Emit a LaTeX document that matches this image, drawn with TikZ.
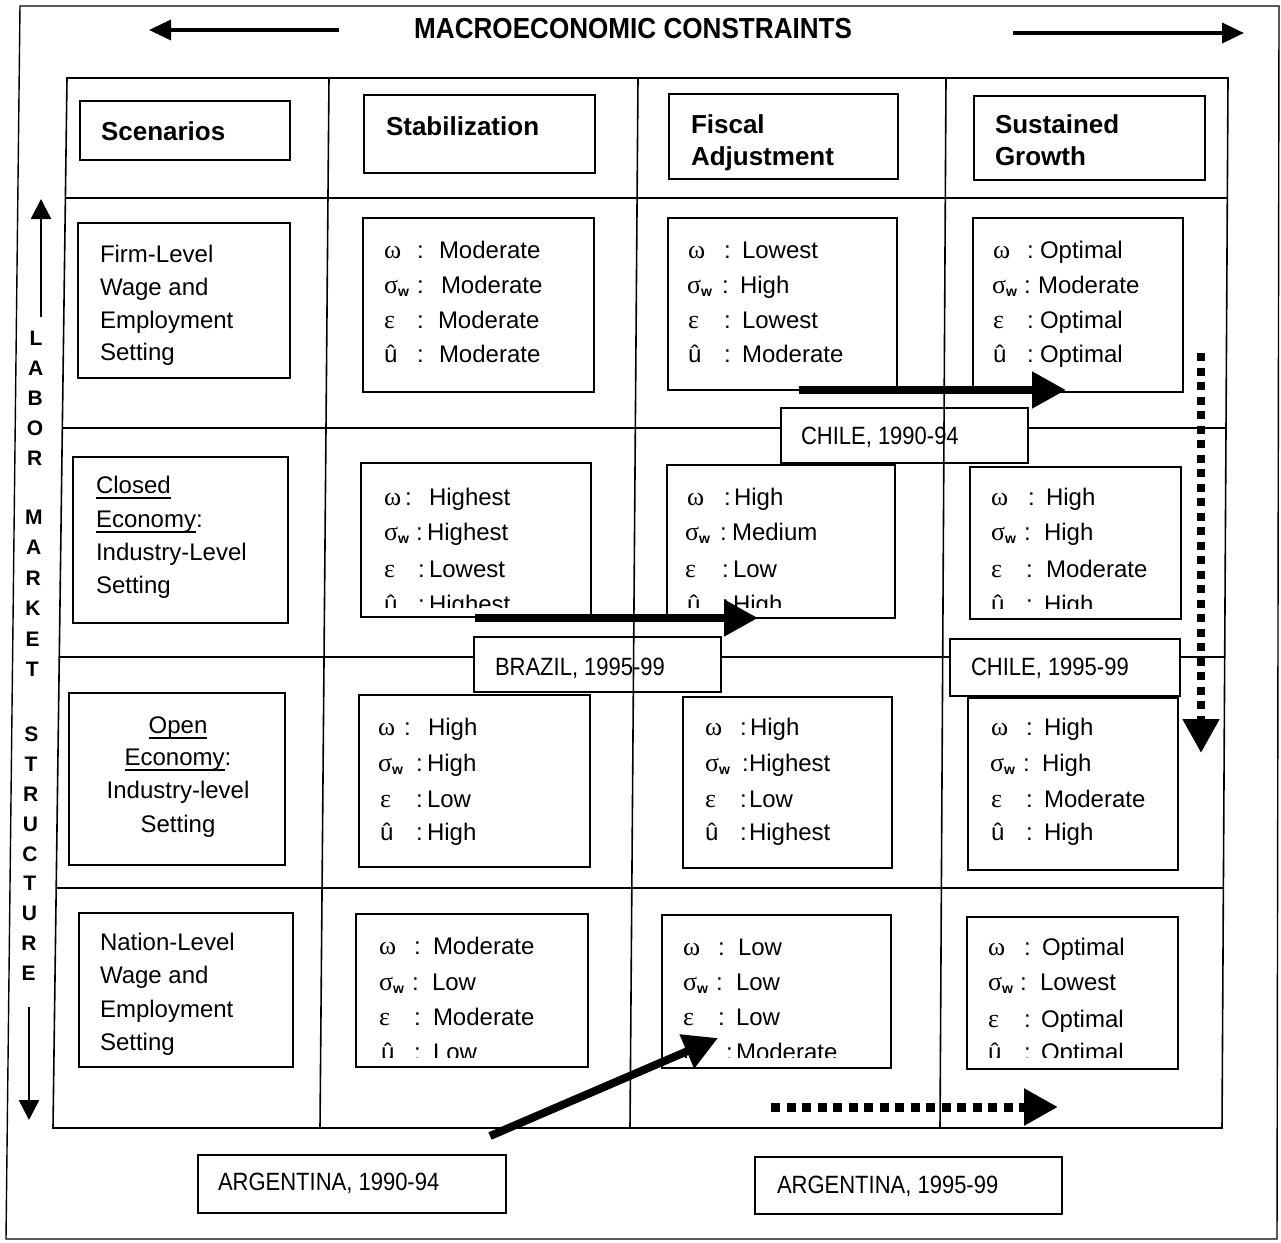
\documentclass[tikz,border=0pt]{standalone}
\usepackage{fontspec}
\setmainfont{Liberation Sans}
\newfontfamily\grk{Liberation Serif}
\newfontfamily\narrowfont[FakeStretch=0.88]{Liberation Sans}
\newfontfamily\titlefont[FakeStretch=0.9]{Liberation Sans}
\usetikzlibrary{arrows.meta,fit}

\newcommand\om{{\grk\fontsize{26}{28}\selectfont ω}}
\newcommand\sw{{\grk\fontsize{26}{28}\selectfont σ}\raisebox{-3.5pt}{\fontsize{14}{14}\selectfont\bfseries w}}
\newcommand\ep{{\grk\fontsize{26}{28}\selectfont ε}}
\newcommand\uh{û}
\newcommand\myul[1]{\setbox0\hbox{#1}\rlap{\rule[-6pt]{\wd0}{2pt}}\box0}
% one data line: name, symbol x, colon x, value x, baseline y, symbol, value
\newcommand\dl[7]{%
  \node[txt] (#1s) at (#2,#5) {#6};
  \node[txt] (#1c) at (#3,#5) {:};
  \node[txt] (#1v) at (#4,#5) {#7};}
\newcommand\mkbox[5]{\node[boxst, fit={(#2,#3) (#4,#5)}] (#1) {};}

\begin{document}
\begin{tikzpicture}[x=1pt,y=-1pt,
  gridln/.style={line width=1.6pt},
  boxst/.style={draw, line width=2pt, inner sep=0pt, outer sep=0pt, fill=white},
  txt/.style={inner sep=0pt, outer sep=0pt, anchor=base west, font=\fontsize{24}{28}\selectfont},
  rlab/.style={inner sep=0pt, outer sep=0pt, anchor=base west, font=\fontsize{24}{28}\selectfont},
  hdr/.style={inner sep=0pt, outer sep=0pt, anchor=base west, font=\fontsize{26}{30}\selectfont\bfseries},
  lbl/.style={inner sep=0pt, outer sep=0pt, anchor=base west, font=\narrowfont\fontsize{25}{28}\selectfont},
  vlet/.style={inner sep=0pt, outer sep=0pt, font=\fontsize{21}{21}\selectfont\bfseries},
  solidarr/.style={line width=8pt, -{Triangle[length=34pt,width=35pt]}},
  dotarr/.style={line width=8pt, dash pattern=on 8pt off 6.5pt, -{Triangle[length=34pt,width=35pt]}},
  thinarr/.style={line width=3.5pt, -{Triangle[length=22pt,width=20pt]}},
]
\fill[white] (0,0) rectangle (1281,1242);
\useasboundingbox (0,0) rectangle (1281,1242);

% outer frame
\draw[line width=1.4pt] (20,6) -- (1279,6) -- (1277,1239) -- (6,1239) -- cycle;

% title and its arrows
\node[inner sep=0pt, anchor=base west, font=\titlefont\fontsize{29}{32}\selectfont\bfseries] (title) at (414,38) {MACROECONOMIC CONSTRAINTS};
\coordinate (tla) at (339,30); \coordinate (tlb) at (149,30);
\coordinate (tra) at (1013,33); \coordinate (trb) at (1244,33);
\draw[thinarr] (tla) -- (tlb);
\draw[thinarr] (tra) -- (trb);

% left vertical label
\coordinate (vua) at (41,317); \coordinate (vub) at (41,199);
\coordinate (vda) at (29,1007); \coordinate (vdb) at (29,1120);
\draw[line width=2.5pt, -{Triangle[length=20pt,width=20pt]}] (vua) -- (vub);
\draw[line width=2.5pt, -{Triangle[length=20pt,width=20pt]}] (vda) -- (vdb);
\foreach \ch/\yy [count=\i] in {L/338,A/368,B/398,O/428,R/458,M/517,A/547,R/578,K/608,E/639,T/669,S/734,T/764,R/794,U/824,C/854,T/883,U/913,R/943,E/973}
  \node[vlet] (lm\i) at ({36-(\yy-338)*0.0115},\yy) {\ch};

% grid: outer and row lines
\draw[gridln] (67,78) -- (1228,78) -- (1222,1128) -- (53,1128) -- cycle;
\draw[gridln] (65.4,198) -- (1227.3,198);
\draw[gridln] (62.3,428) -- (1226,428);
\draw[gridln] (59.3,657) -- (1224.7,657);
\draw[gridln] (56.2,888) -- (1223.4,888);

% header boxes
\mkbox{hscen}{80}{101}{290}{160}
\node[hdr] (tscen) at (101,140) {Scenarios};
\mkbox{hstab}{364}{95}{595}{173}
\node[hdr] (tstab) at (386,135) {Stabilization};
\mkbox{hfisc}{669}{94}{898}{179}
\node[hdr] (tfisca) at (691,133) {Fiscal};
\node[hdr] (tfiscb) at (691,165) {Adjustment};
\mkbox{hsust}{974}{96}{1205}{180}
\node[hdr] (tsusta) at (995,133) {Sustained};
\node[hdr] (tsustb) at (995,165) {Growth};

% row label boxes
\mkbox{rl1}{78}{223}{290}{378}
\node[rlab] (rl1a) at (100,262) {Firm-Level};
\node[rlab] (rl1b) at (100,295) {Wage and};
\node[rlab] (rl1c) at (100,328) {Employment};
\node[rlab] (rl1d) at (100,360) {Setting};
\mkbox{rl2}{73}{457}{288}{623}
\node[rlab] (rl2a) at (96,493) {\myul{Closed}};
\node[rlab] (rl2b) at (96,527) {\myul{Economy}:};
\node[rlab] (rl2c) at (96,560) {Industry-Level};
\node[rlab] (rl2d) at (96,593) {Setting};
\mkbox{rl3}{69}{693}{285}{865}
\node[rlab, anchor=base] (rl3a) at (178,733) {\myul{Open}};
\node[rlab, anchor=base] (rl3b) at (178,765) {\myul{Economy}:};
\node[rlab, anchor=base] (rl3c) at (178,798) {Industry-level};
\node[rlab, anchor=base] (rl3d) at (178,832) {Setting};
\mkbox{rl4}{79}{913}{293}{1067}
\node[rlab] (rl4a) at (100,950) {Nation-Level};
\node[rlab] (rl4b) at (100,983) {Wage and};
\node[rlab] (rl4c) at (100,1017) {Employment};
\node[rlab] (rl4d) at (100,1050) {Setting};

% row 1 data boxes
\mkbox{b12}{363}{218}{594}{392}
\dl{r1c2a}{384}{417}{439}{258}{\om}{Moderate}
\dl{r1c2b}{384}{417}{441}{293}{\sw}{Moderate}
\dl{r1c2c}{384}{417}{438}{328}{\ep}{Moderate}
\dl{r1c2d}{384}{417}{439}{362}{\uh}{Moderate}
\mkbox{b13}{668}{218}{897}{390}
\dl{r1c3a}{688}{724}{742}{258}{\om}{Lowest}
\dl{r1c3b}{687}{722}{740}{293}{\sw}{High}
\dl{r1c3c}{688}{724}{742}{328}{\ep}{Lowest}
\dl{r1c3d}{688}{724}{742}{362}{\uh}{Moderate}
\mkbox{b14}{973}{218}{1183}{392}
\dl{r1c4a}{993}{1027}{1040}{258}{\om}{Optimal}
\dl{r1c4b}{992}{1024}{1038}{293}{\sw}{Moderate}
\dl{r1c4c}{993}{1027}{1040}{328}{\ep}{Optimal}
\dl{r1c4d}{993}{1027}{1040}{362}{\uh}{Optimal}

% row 2 data boxes
\mkbox{b22}{361}{463}{591}{617}
\dl{r2c2a}{384}{405}{429}{505}{\om}{Highest}
\dl{r2c2b}{384}{416}{427}{540}{\sw}{Highest}
\dl{r2c2c}{384}{418}{429}{577}{\ep}{Lowest}
\begin{scope}\clip (361,463) rectangle (591,607);
\dl{r2c2d}{384}{418}{429}{612}{\uh}{Highest}
\end{scope}
\mkbox{b23}{667}{465}{895}{618}
\dl{r2c3a}{687}{724}{734}{505}{\om}{High}
\dl{r2c3b}{685}{720}{732}{540}{\sw}{Medium}
\dl{r2c3c}{685}{722}{733}{577}{\ep}{Low}
\begin{scope}\clip (667,465) rectangle (895,607);
\dl{r2c3d}{687}{722}{733}{612}{\uh}{High}
\end{scope}
\mkbox{b24}{970}{467}{1181}{619}
\dl{r2c4a}{991}{1028}{1046}{505}{\om}{High}
\dl{r2c4b}{991}{1024}{1044}{540}{\sw}{High}
\dl{r2c4c}{991}{1026}{1046}{577}{\ep}{Moderate}
\begin{scope}\clip (970,467) rectangle (1181,608);
\dl{r2c4d}{991}{1026}{1044}{612}{\uh}{High}
\end{scope}

% row 3 data boxes
\mkbox{b32}{359}{695}{590}{867}
\dl{r3c2a}{378}{404}{428}{735}{\om}{High}
\dl{r3c2b}{378}{416}{427}{771}{\sw}{High}
\dl{r3c2c}{380}{416}{427}{807}{\ep}{Low}
\dl{r3c2d}{380}{416}{427}{840}{\uh}{High}
\mkbox{b33}{683}{697}{892}{868}
\dl{r3c3a}{705}{740}{750}{735}{\om}{High}
\dl{r3c3b}{705}{742}{749}{771}{\sw}{Highest}
\dl{r3c3c}{705}{740}{749}{807}{\ep}{Low}
\dl{r3c3d}{705}{740}{749}{840}{\uh}{Highest}
\mkbox{b34}{968}{698}{1178}{870}
\dl{r3c4a}{991}{1026}{1044}{735}{\om}{High}
\dl{r3c4b}{990}{1023}{1042}{771}{\sw}{High}
\dl{r3c4c}{991}{1026}{1044}{807}{\ep}{Moderate}
\dl{r3c4d}{991}{1026}{1044}{840}{\uh}{High}

% row 4 data boxes
\mkbox{b42}{356}{914}{588}{1067}
\dl{r4c2a}{379}{414}{433}{954}{\om}{Moderate}
\dl{r4c2b}{379}{412}{432}{990}{\sw}{Low}
\dl{r4c2c}{379}{414}{433}{1025}{\ep}{Moderate}
\begin{scope}\clip (356,914) rectangle (588,1057);
\dl{r4c2d}{381}{414}{433}{1060}{\uh}{Low}
\end{scope}
\mkbox{b43}{662}{915}{891}{1068}
\dl{r4c3a}{683}{718}{738}{955}{\om}{Low}
\dl{r4c3b}{683}{716}{736}{990}{\sw}{Low}
\dl{r4c3c}{683}{718}{736}{1025}{\ep}{Low}
\begin{scope}\clip (662,915) rectangle (891,1057);
\dl{r4c3d}{683}{726}{736}{1060}{\uh}{Moderate}
\end{scope}
\mkbox{b44}{967}{917}{1178}{1069}
\dl{r4c4a}{988}{1024}{1042}{955}{\om}{Optimal}
\dl{r4c4b}{988}{1020}{1040}{990}{\sw}{Lowest}
\dl{r4c4c}{988}{1024}{1041}{1027}{\ep}{Optimal}
\begin{scope}\clip (967,917) rectangle (1178,1057);
\dl{r4c4d}{988}{1024}{1041}{1060}{\uh}{Optimal}
\end{scope}

% country label boxes
\mkbox{kchile1}{781}{408}{1028}{463}
\node[lbl] (tchile1) at (801,444) {CHILE, 1990-94};
\mkbox{kbrazil}{474}{637}{721}{692}
\node[lbl] (tbrazil) at (495,675) {BRAZIL, 1995-99};
\mkbox{kchile2}{950}{639}{1180}{696}
\node[lbl] (tchile2) at (971,675) {CHILE, 1995-99};
\mkbox{karg1}{198}{1155}{506}{1213}
\node[lbl] (targ1) at (218,1190) {ARGENTINA, 1990-94};
\mkbox{karg2}{755}{1157}{1062}{1214}
\node[lbl] (targ2) at (777,1193) {ARGENTINA, 1995-99};

% column lines
\draw[gridln] (329,78) -- (320,1128);
\draw[gridln] (638,78) -- (630,1128);
\draw[gridln] (946,78) -- (940,1128);

% country path arrows
\coordinate (ch1a) at (799,390); \coordinate (ch1b) at (1066,390);
\draw[solidarr] (ch1a) -- (ch1b);
\coordinate (bra) at (475,618); \coordinate (brb) at (758,618);
\draw[solidarr] (bra) -- (brb);
\coordinate (ch2a) at (1201,353); \coordinate (ch2b) at (1201,753);
\draw[dotarr] (ch2a) -- (ch2b);
\coordinate (ar1a) at (490,1136); \coordinate (ar1b) at (718,1038);
\draw[solidarr] (ar1a) -- (ar1b);
\coordinate (ar2a) at (771,1107); \coordinate (ar2b) at (1058,1107);
\draw[dotarr, line width=9pt, dash pattern=on 9pt off 6.5pt] (ar2a) -- (ar2b);
\end{tikzpicture}
\end{document}
